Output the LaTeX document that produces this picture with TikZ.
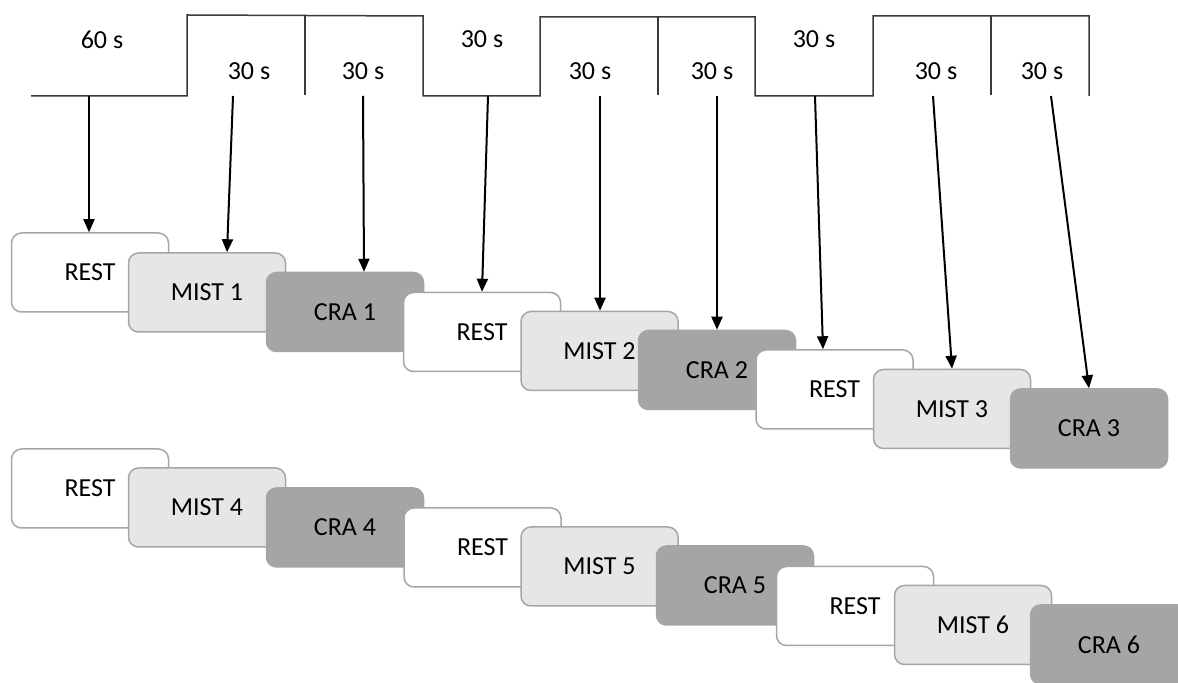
\documentclass[tikz,border=0pt]{standalone}
\usepackage{fontspec}
\setmainfont{Carlito}
\usetikzlibrary{arrows.meta}
\definecolor{restfill}{HTML}{FFFFFF}
\definecolor{mistfill}{HTML}{E7E6E6}
\definecolor{crafill}{HTML}{A5A5A5}
\definecolor{boxline}{HTML}{A6A6A6}
\definecolor{tline}{HTML}{3A3A3A}
\begin{document}
\begin{tikzpicture}[x=0.5pt,y=-0.5pt,
  font=\fontsize{13}{15}\selectfont,
  phase/.style={rectangle,rounded corners=5pt,minimum width=78.5pt,minimum height=39.5pt,inner sep=0pt,line width=0.75pt,text=black},
  restbox/.style={phase,draw=boxline,fill=restfill},
  mistbox/.style={phase,draw=boxline,fill=mistfill},
  crabox/.style={phase,draw=crafill,fill=crafill},
  timeline/.style={draw=tline,line width=0.75pt},
  arr/.style={draw=black,line width=1pt,-{Triangle[length=6.5pt,width=5.5pt]}},
  lbl/.style={inner sep=0pt}]
\clip (0,0) rectangle (1178,683);
\fill[white] (0,0) rectangle (1178,683);
% timeline
\draw[timeline] (31,96) -- (187,96) -- (187,15) -- (423,16) -- (423,96) -- (540,96) -- (540,17) -- (755,17) -- (755,96) -- (873,96) -- (873,16) -- (1089,16) -- (1089,96);
\draw[timeline] (305,15) -- (305,95);
\draw[timeline] (658,17) -- (658,95);
\draw[timeline] (991,16) -- (991,95);
% duration labels
\node[lbl] (d1) at (102,40) {60 s};
\node[lbl] (d2) at (249,71) {30 s};
\node[lbl] (d3) at (363,71) {30 s};
\node[lbl] (d4) at (482,39) {30 s};
\node[lbl] (d5) at (590,71) {30 s};
\node[lbl] (d6) at (712,71) {30 s};
\node[lbl] (d7) at (814,39) {30 s};
\node[lbl] (d8) at (936,71) {30 s};
\node[lbl] (d9) at (1042,71) {30 s};
% arrow starts
\coordinate (s1) at (89,96);
\coordinate (s2) at (233,96);
\coordinate (s3) at (363,96);
\coordinate (s4) at (488,96);
\coordinate (s5) at (600,96);
\coordinate (s6) at (717,96);
\coordinate (s7) at (815,96);
\coordinate (s8) at (933,96);
\coordinate (s9) at (1051,96);
% row 1
\node[restbox] (rest1) at (90,272.5) {REST};
\node[mistbox] (mist1) at (207,292.5) {MIST 1};
\node[crabox]  (cra1)  at (345,312) {CRA 1};
\node[restbox] (rest2) at (482,332) {REST};
\node[mistbox] (mist2) at (599.5,351) {MIST 2};
\node[crabox]  (cra2)  at (717,370) {CRA 2};
\node[restbox] (rest3) at (834.5,389.5) {REST};
\node[mistbox] (mist3) at (952,409) {MIST 3};
\node[crabox]  (cra3)  at (1089,428.5) {CRA 3};
% row 2
\node[restbox] (rest4) at (90,488.5) {REST};
\node[mistbox] (mist4) at (207,507.5) {MIST 4};
\node[crabox]  (cra4)  at (345,527.5) {CRA 4};
\node[restbox] (rest5) at (482.5,547.5) {REST};
\node[mistbox] (mist5) at (599.5,566.5) {MIST 5};
\node[crabox]  (cra5)  at (735,585.5) {CRA 5};
\node[restbox] (rest6) at (855,606) {REST};
\node[mistbox] (mist6) at (973,625) {MIST 6};
\node[crabox]  (cra6)  at (1109,644.5) {CRA 6};
% arrows
\draw[arr] (s1) -- (89,0 |- rest1.north);
\draw[arr] (s2) -- (227,0 |- mist1.north);
\draw[arr] (s3) -- (364,0 |- cra1.north);
\draw[arr] (s4) -- (482,0 |- rest2.north);
\draw[arr] (s5) -- (600,0 |- mist2.north);
\draw[arr] (s6) -- (717,0 |- cra2.north);
\draw[arr] (s7) -- (823,0 |- rest3.north);
\draw[arr] (s8) -- (952,0 |- mist3.north);
\draw[arr] (s9) -- (1089,0 |- cra3.north);
\end{tikzpicture}
\end{document}
